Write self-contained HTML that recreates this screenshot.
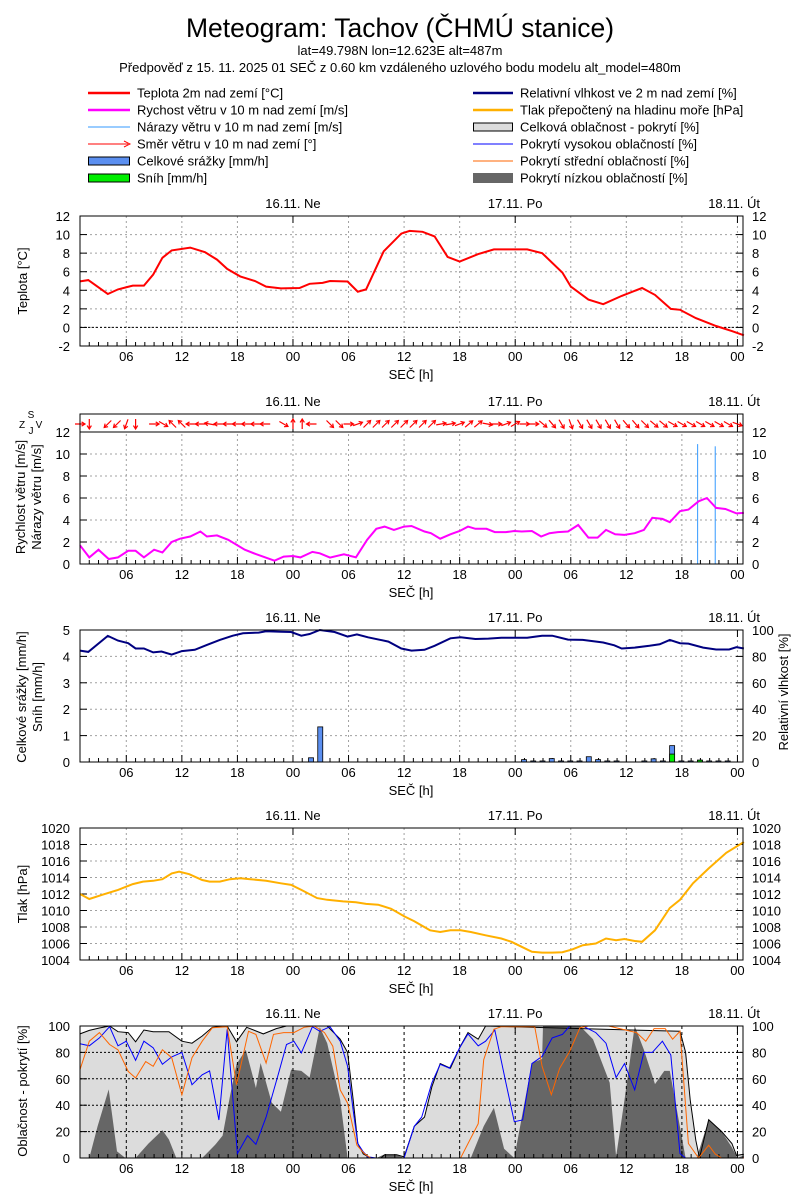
<!DOCTYPE html>
<html><head><meta charset="utf-8"><style>
html,body{margin:0;padding:0;background:#fff;}
svg{display:block;font-family:"Liberation Sans",sans-serif;}
</style></head><body>
<svg id="c" width="800" height="1200" viewBox="0 0 800 1200" xmlns="http://www.w3.org/2000/svg">
<text x="400" y="37" font-size="26.5" text-anchor="middle">Meteogram: Tachov (ČHMÚ stanice)</text>
<text x="400" y="55" font-size="13" text-anchor="middle">lat=49.798N lon=12.623E alt=487m</text>
<text x="400" y="72" font-size="13" text-anchor="middle">Předpověď z 15. 11. 2025 01 SEČ z 0.60 km vzdáleného uzlového bodu modelu alt_model=480m</text>
<g font-size="13">
 <line x1="88" y1="93" x2="130" y2="93" stroke="#ff0000" stroke-width="2.5"/>
 <text x="137" y="97.5">Teplota 2m nad zemí [°C]</text>
 <line x1="88" y1="110" x2="130" y2="110" stroke="#ff00ff" stroke-width="2.5"/>
 <text x="137" y="114.5">Rychost větru v 10 m nad zemí [m/s]</text>
 <line x1="88" y1="127" x2="130" y2="127" stroke="#3399ff" stroke-width="1"/>
 <text x="137" y="131.5">Nárazy větru v 10 m nad zemí [m/s]</text>
 <line x1="88" y1="144" x2="128" y2="144" stroke="#ff0000" stroke-width="1"/>
 <path d="M124,141 L130,144 L124,147" fill="none" stroke="#ff0000"/>
 <text x="137" y="148.5">Směr větru v 10 m nad zemí [°]</text>
 <rect x="88.5" y="157" width="41" height="8" fill="#5b8ff0" stroke="#000"/>
 <text x="137" y="165.5">Celkové srážky [mm/h]</text>
 <rect x="88.5" y="174" width="41" height="8" fill="#00ee00" stroke="#000"/>
 <text x="137" y="182.5">Sníh [mm/h]</text>
 <line x1="473" y1="93" x2="513" y2="93" stroke="#000080" stroke-width="2.5"/>
 <text x="520" y="97.5">Relativní vlhkost ve 2 m nad zemí [%]</text>
 <line x1="473" y1="110" x2="513" y2="110" stroke="#ffb000" stroke-width="2.5"/>
 <text x="520" y="114.5">Tlak přepočtený na hladinu moře [hPa]</text>
 <rect x="473.5" y="123" width="39" height="8" fill="#dcdcdc" stroke="#000"/>
 <text x="520" y="131.5">Celková oblačnost - pokrytí [%]</text>
 <line x1="473" y1="144" x2="513" y2="144" stroke="#0000ff" stroke-width="1"/>
 <text x="520" y="148.5">Pokrytí vysokou oblačností [%]</text>
 <line x1="473" y1="161" x2="513" y2="161" stroke="#ff6600" stroke-width="1"/>
 <text x="520" y="165.5">Pokrytí střední oblačností [%]</text>
 <rect x="473" y="173" width="40" height="10" fill="#666666"/>
 <text x="520" y="182.5">Pokrytí nízkou oblačností [%]</text>
</g>
</svg>
<script>
// ---- data (time in hours from 15.11. 00:00 SEČ) ----
const tempT=[1.0,1.9,4.0,5.1,6.7,7.9,8.9,9.9,10.9,12.9,14.5,15.8,16.9,18.3,19.9,21.1,22.7,24.7,25.8,27.2,28,29.9,31,31.9,33.8,35.7,36.6,38,39.3,40.7,42,44,45.7,49.3,50.9,53.1,54,55.9,57.5,59.5,61.7,63.1,64.8,65.8,67.5,69.7,71.4,72.7];
const tempV=[4.96,5.1,3.6,4.1,4.5,4.5,5.7,7.5,8.3,8.6,8.1,7.3,6.3,5.5,5.0,4.4,4.2,4.25,4.7,4.8,5.0,4.95,3.85,4.1,8.2,10.1,10.4,10.3,9.8,7.6,7.1,7.9,8.4,8.4,8.0,5.9,4.4,3.0,2.5,3.4,4.25,3.5,2.0,1.9,1.0,0.15,-0.4,-0.85];
const windT=[1.0,2.0,3.0,4.1,5.1,6.2,7.0,7.9,9.0,9.9,10.9,11.8,12.9,14.0,14.7,15.8,17.0,18.8,20.0,22.0,23.0,24.0,24.8,26.1,26.9,28.0,29.5,30.8,32.0,33.0,33.9,34.9,36.0,36.8,38.2,38.9,39.9,41.0,42.0,42.9,43.7,44.9,45.8,47.0,47.9,48.7,49.8,50.8,51.7,52.6,53.7,54.8,55.9,56.9,57.8,58.8,59.8,60.9,61.9,62.8,63.9,64.7,65.8,66.7,67.8,68.7,69.7,70.7,71.9,72.7];
const windV=[1.7,0.6,1.3,0.45,0.6,1.2,1.2,0.6,1.3,1.05,2.0,2.3,2.5,2.95,2.5,2.6,2.2,1.3,0.9,0.3,0.67,0.73,0.6,1.1,0.97,0.58,0.88,0.6,2.2,3.2,3.4,3.1,3.4,3.45,2.95,2.8,2.3,2.7,3.0,3.4,3.2,3.2,2.9,2.9,3.0,2.95,3.0,2.5,2.8,2.9,2.95,3.55,2.4,2.4,3.1,2.7,2.65,2.8,3.1,4.2,4.1,3.8,4.8,4.95,5.7,6.0,5.1,5.0,4.6,4.65];
const gustT=[67.7,69.6];
const gustV=[10.9,10.7];
const dirT=[1,2,4,5,6,7,9,10,11,12,13,14,15,16,17,18,19,20,21,23,24,25,26,28,29,30,31,32,33,34,35,36,37,38,39,40,41,42,43,44,45,46,47,48,49,50,51,52,53,54,55,56,57,58,59,60,61,62,63,64,65,66,67,68,69,70,71,72];
const dirV=[270,0,45,45,20,0,270,300,135,135,90,90,100,90,90,90,90,90,90,300,180,180,90,315,315,270,250,225,225,225,225,225,225,225,225,260,260,250,230,230,280,270,250,240,270,270,310,320,330,340,330,330,330,330,330,320,320,315,310,310,300,300,300,300,300,300,300,290];
const rhT=[1.0,1.9,4.0,5.1,6.2,7.0,7.9,8.9,9.8,10.9,12.0,13.4,14.7,16.1,17.5,18.6,20.3,21.1,22.7,23.8,24.9,25.8,26.9,28.5,29.9,30.9,32.1,34.3,35.7,36.8,38.2,39.3,41.0,42.1,43.7,45.1,46.5,49.3,50.9,52.0,53.7,55.3,57.5,58.7,59.5,60.9,62.5,63.6,64.7,65.8,66.7,68.3,69.7,71.1,71.9,72.7];
const rhV=[84.4,83.4,95.5,92,90,86,86,83,83.7,81.4,84,85,88.7,92.5,95.7,97.5,98,99,98.7,98.5,95.7,97,100,98.5,95,96.7,94.5,91.2,86,84.4,85,88,93.7,94.5,93.2,93.5,94.2,94.2,95.7,95.7,92.7,92.5,90.5,88.4,86,86.7,88,89.2,92.5,90,89.7,86.7,85.2,85.2,87,86];
const precT=[26,27,49,50,51,52,53,54,55,56,57,58,59,62,63,64,65,66,67,68,69,70,71];
const precV=[0.16,1.33,0.09,0.04,0.04,0.13,0.04,0.04,0.04,0.2,0.09,0.04,0.04,0.04,0.12,0.04,0.62,0.04,0.04,0.07,0.04,0.04,0.04];
const snowT=[65,68];
const snowV=[0.3,0.07];
const presT=[1.0,2.0,3.4,5.1,6.7,7.8,8.9,9.9,10.9,11.7,12.8,14.2,15.0,16.1,17.2,18.3,19.4,21.1,22.7,23.8,24.9,26.6,27.7,29.4,30.8,31.9,33.2,34.6,36.0,37.1,38.8,39.9,41.0,42.1,43.2,44.8,46.5,47.6,48.7,49.8,50.9,52.0,53.1,54.2,55.3,56.7,57.8,58.9,59.8,60.9,61.7,63.1,64.7,65.8,67.2,68.9,70.8,72.7];
const presV=[1012.0,1011.4,1011.9,1012.5,1013.2,1013.5,1013.6,1013.8,1014.5,1014.7,1014.4,1013.7,1013.5,1013.5,1013.8,1013.9,1013.8,1013.6,1013.3,1013.1,1012.5,1011.5,1011.3,1011.1,1011.0,1010.8,1010.7,1010.2,1009.3,1008.7,1007.6,1007.4,1007.6,1007.6,1007.4,1007.0,1006.6,1006.2,1005.6,1005.0,1004.9,1004.9,1004.95,1005.3,1005.8,1006.0,1006.6,1006.4,1006.55,1006.3,1006.2,1007.6,1010.3,1011.3,1013.3,1015.1,1017.0,1018.3];
const totT=[1.0,2.0,3.1,4.2,5.1,6.2,7.0,7.9,8.9,10.6,12.0,13.1,14.2,15.3,16.9,17.9,19.0,20.8,22.2,23.3,27.7,29.1,29.9,30.5,31.0,31.6,32.4,33.5,33.9,35.2,36.0,37.1,38.2,39.0,39.9,41.0,42.1,42.9,44.0,44.8,65.8,66.4,66.9,67.5,67.9,68.9,70.3,71.4,71.9,72.7];
const totV=[94,96.7,98.5,100,95.7,95,88,97,95.7,95.7,88.5,87,92.4,99,100,88,99,94,98,100,100,90,80,44,11,3,0,0,2.5,2.5,0.8,24,31,54,71.5,68,85,95,90,100,96,80,44,13.5,0,29,20,11,2,2.8];
const lowT=[1,2,2.9,4.1,5,5.9,7,8.4,9.9,10.6,11.4,14.2,15.6,16.4,17.2,17.9,18.9,20,20.5,21.7,22.7,23.8,24.9,25.8,26.9,27.7,29.1,29.9,33,33.8,35.2,36,43.2,44.6,45.7,46.8,47.9,48.4,49.8,50.9,51,55,56.4,58.2,58.9,59.8,60.9,61.9,63.1,64.1,64.7,65.6,66.4,67.6,68.9,70.3,71.4,72,72.7];
const lowV=[0,0,24,52,5,0,0,11,21,14,0,0,10,17,47,71,82,53,72,42,35,67,66,61,99,87,44,0,0,2.5,2.5,0,0,24,38,7,0,19,72,75,100,100,90,57,1,44,100,82,56,66,66,31,0,0,29,20,8,0,2];
const highT=[1.0,2.0,3.1,4.2,5.1,6.0,7.0,7.9,8.9,9.9,10.9,12.0,13.1,14.2,15.0,16.0,16.9,18.0,19.1,20.0,21.1,22.5,23.3,24.1,24.9,26.1,26.9,28.0,29.1,29.9,30.5,31.0,31.6,32.1,33.0,36.0,37.1,37.9,39.0,39.9,40.9,42.0,42.9,44.0,44.8,45.8,47.0,47.9,48.8,49.8,50.9,52.0,53.1,53.9,55.3,56.7,57.8,58.9,59.8,60.9,61.9,62.8,63.9,64.8,65.8,66.4,72.7];
const highV=[86.5,85,91,99.5,85,88.5,74,88.5,83.5,71,76.6,80,55.5,63,66,28.8,97.5,3.3,17,10.4,31,65.6,86,88.5,79.6,99.5,96,99.5,88.5,69.5,36,11,4.6,0.8,0,0,24,31,57,71,68,83.5,94,85,88.5,97,57,27.5,28.8,71.5,77,91,93.6,100,100,95,87,61,71.5,51.6,80,80,88.5,78,3.3,0,0];
const midT=[1.0,2.0,3.1,4.2,5.1,6.2,7.0,8.1,8.9,9.9,10.9,12.0,13.1,14.2,15.3,16.9,17.9,19.2,20.0,21.1,21.9,23.0,24.1,25.2,26.3,27.4,28.3,29.1,29.9,30.9,31.7,32.4,42.1,44.0,44.6,45.7,46.5,50.1,50.9,51.9,52.8,53.9,55.0,55.9,58.1,61.1,62.1,63.0,64.2,65.0,65.8,66.7,67.8,68.9,69.6,70.3,72.7];
const midV=[67,88.5,95,86,82,65.6,60.6,73,69.5,82,76,47.8,76,88.5,98.7,99.5,55.5,96,93.6,72,93.6,95,95,99,100,95,84.7,51.6,41.5,9.7,3.3,0,0,26,74.5,97.5,99.5,99.5,69.5,48,68,81,98.7,100,100,95,88.5,98,98,90,96,11,0,9.7,3,0,0];
const hourLabels=["06","12","18","00","06","12","18","00","06","12","18","00"];
const hourTicks=[6,12,18,24,30,36,42,48,54,60,66,72];
const dayLabels=["16.11. Ne","17.11. Po","18.11. Út"];
const dayTicks=[24,48,72];

// ---- layout ----
const NS="http://www.w3.org/2000/svg";
const svg=document.getElementById('c');
const L=80,R=743,T0=1,T1=72.6;
function X(t){return L+(t-T0)*(R-L)/(T1-T0);}
function mk(tag,attrs,parent){const e=document.createElementNS(NS,tag);for(const k in attrs)e.setAttribute(k,attrs[k]);(parent||svg).appendChild(e);return e;}
function txt(x,y,s,anchor,size,parent,rot){const e=mk('text',{x:x,y:y,'font-size':size||13,'text-anchor':anchor||'start'},parent);if(rot)e.setAttribute('transform','rotate(-90 '+x+' '+y+')');e.textContent=s;return e;}
function linePath(ts,vs,Y){let d='';for(let i=0;i<ts.length;i++)d+=(i?'L':'M')+X(ts[i]).toFixed(1)+','+Y(vs[i]).toFixed(1);return d;}
function areaPath(ts,vs,Y,base){let d='M'+X(ts[0]).toFixed(1)+','+base;for(let i=0;i<ts.length;i++)d+='L'+X(ts[i]).toFixed(1)+','+Y(vs[i]).toFixed(1);d+='L'+X(ts[ts.length-1]).toFixed(1)+','+base+'Z';return d;}

function axesTime(g,top,bot,gridColor,gridDash,frameTop){
  for(let i=0;i<hourTicks.length;i++){
    const x=X(hourTicks[i]);
    const gl=mk('line',{x1:x,y1:frameTop,x2:x,y2:bot,stroke:gridColor,'stroke-dasharray':gridDash,'stroke-width':1},g);
    
    
    const lb=txt(x,bot+15,hourLabels[i],'middle',13,g);
    
    
  }
  for(let h=2;h<=72;h++){const x=X(h);const len=(h%6===0)?7:4;
    const tk=mk('line',{x1:x,y1:bot,x2:x,y2:bot-len,stroke:'#000'},g);
    
    }
  for(let i=0;i<dayTicks.length;i++){const x=X(dayTicks[i]);
    const tk=mk('line',{x1:x,y1:frameTop,x2:x,y2:frameTop+7,stroke:'#000'},g);
    
    
    const dl=txt(i===2?760:x,frameTop-8,dayLabels[i],i===2?'end':'middle',13,g);
    
    }
  const xt=txt(411,bot+33,'SEČ [h]','middle',13,g);
  
  
}
function axesY(g,vals,Y,labelsL,labelsR,gridColor,gridDash,bot,top){
  for(let i=0;i<vals.length;i++){const y=Y(vals[i]);
    if(y>top+1&&y<bot-1){const gl=mk('line',{x1:L,y1:y,x2:R,y2:y,stroke:gridColor,'stroke-dasharray':gridDash},g);
      
      }
    mk('line',{x1:L,y1:y,x2:L+7,y2:y,stroke:'#000'},g);
    mk('line',{x1:R,y1:y,x2:R-7,y2:y,stroke:'#000'},g);
    if(labelsL){const a=txt(70,y+5,labelsL[i],'end',13,g);
      
      }
    if(labelsR){const b=txt(752,y+5,labelsR[i],'start',13,g);
      
      }
  }
}
function frame(g,top,bot){const f=mk('rect',{x:L,y:top,width:R-L,height:bot-top,fill:'none',stroke:'#000'},g);
  
  }
function ytitle(g,x,y,s){const e=txt(x,y,s,'middle',13,g,true);return e;}

// ---- Panel 1: temperature ----
(function(){
  const top=216,bot=346,mn=-2,mx=12;const Y=v=>bot-(v-mn)*(bot-top)/(mx-mn);
  const g=mk('g',{});
  axesTime(g,top,bot,'#a0a0a0','2,3',top);
  const v=[-2,0,2,4,6,8,10,12];const l=v.map(String);
  axesY(g,v,Y,l,l,'#a0a0a0','2,3',bot,top);
  const z=mk('line',{x1:L,y1:Y(0),x2:R,y2:Y(0),stroke:'#000','stroke-dasharray':'2,2'},g);
  
  const p=mk('path',{d:linePath(tempT,tempV,Y),fill:'none',stroke:'#ff0000','stroke-width':2},g);
  
  frame(g,top,bot);
  ytitle(g,27,281,'Teplota [°C]');
})();

// ---- Panel 2: wind ----
(function(){
  const top=414,sep=432,bot=564,mx=12;const Y=v=>bot-v*(bot-sep)/mx;
  const g=mk('g',{});
  axesTime(g,sep,bot,'#a0a0a0','2,3',top);
  const v=[0,2,4,6,8,10,12];const l=v.map(String);
  axesY(g,v,Y,l,l,'#a0a0a0','2,3',bot,sep);
  mk('rect',{x:L,y:top,width:R-L,height:sep-top,fill:'#fff'},g);
  for(let i=0;i<dayTicks.length;i++){const x=X(dayTicks[i]);const dl=mk('line',{x1:x,y1:top,x2:x,y2:sep,stroke:'#000'},g);
    }
  for(let i=0;i<gustT.length;i++){const b=mk('line',{x1:X(gustT[i]),y1:bot,x2:X(gustT[i]),y2:Y(gustV[i]),stroke:'#3399ff','stroke-width':1},g);
    }
  const p=mk('path',{d:linePath(windT,windV,Y),fill:'none',stroke:'#ff00ff','stroke-width':2},g);
  
  const cy=424,len=10;
  for(let i=0;i<dirT.length;i++){
    const th=(dirV[i]+180)*Math.PI/180;const dx=Math.sin(th),dy=-Math.cos(th);
    const cx=X(dirT[i]);const x1=cx-dx*len/2,y1=cy-dy*len/2,x2=cx+dx*len/2,y2=cy+dy*len/2;
    const a1=th+Math.PI*0.82,a2=th-Math.PI*0.82;
    const d='M'+x1.toFixed(1)+','+y1.toFixed(1)+'L'+x2.toFixed(1)+','+y2.toFixed(1)+'M'+(x2+Math.sin(a1)*4).toFixed(1)+','+(y2-Math.cos(a1)*4).toFixed(1)+'L'+x2.toFixed(1)+','+y2.toFixed(1)+'L'+(x2+Math.sin(a2)*4).toFixed(1)+','+(y2-Math.cos(a2)*4).toFixed(1);
    const ar=mk('path',{d:d,fill:'none',stroke:'#ff0000','stroke-width':1.2},g);
    
  }
  mk('line',{x1:L,y1:sep,x2:R,y2:sep,stroke:'#000'},g);
  frame(g,top,bot);
  const cs=[['S',31,418],['Z',22,428],['V',39,428],['J',31,434]];
  for(const c of cs){const e=txt(c[1],c[2],c[0],'middle',10,g);}
  ytitle(g,25,497,'Rychlost větru [m/s]');
  ytitle(g,41,497,'Nárazy větru [m/s]');
})();

// ---- Panel 3: precipitation + humidity ----
(function(){
  const top=630,bot=762;const Y=v=>bot-v*(bot-top)/5;const YH=h=>bot-h*(bot-top)/100;
  const g=mk('g',{});
  axesTime(g,top,bot,'#a0a0a0','2,3',top);
  const v=[0,1,2,3,4,5];
  axesY(g,v,Y,v.map(String),['0','20','40','60','80','100'],'#a0a0a0','2,3',bot,top);
  for(let i=0;i<precT.length;i++){const x=X(precT[i])-3;const y=Y(precV[i]);
    const b=mk('rect',{x:x,y:y,width:5,height:bot-y,fill:'#5b8ff0',stroke:'#000','stroke-width':0.8},g);
    }
  for(let i=0;i<snowT.length;i++){const x=X(snowT[i])-3;const y=Y(snowV[i]);
    const b=mk('rect',{x:x,y:y,width:5,height:bot-y,fill:'#00ee00',stroke:'#000','stroke-width':0.8},g);
    }
  const p=mk('path',{d:linePath(rhT,rhV,YH),fill:'none',stroke:'#000080','stroke-width':2},g);
  
  frame(g,top,bot);
  ytitle(g,26,697,'Celkové srážky [mm/h]');
  ytitle(g,42,697,'Sníh [mm/h]');
  ytitle(g,788,692,'Relativní vlhkost [%]');
})();

// ---- Panel 4: pressure ----
(function(){
  const top=828,bot=960,mn=1004,mx=1020;const Y=v=>bot-(v-mn)*(bot-top)/(mx-mn);
  const g=mk('g',{});
  axesTime(g,top,bot,'#a0a0a0','2,3',top);
  const v=[1004,1006,1008,1010,1012,1014,1016,1018,1020];const l=v.map(String);
  axesY(g,v,Y,l,l,'#a0a0a0','2,3',bot,top);
  const p=mk('path',{d:linePath(presT,presV,Y),fill:'none',stroke:'#ffb000','stroke-width':2},g);
  
  frame(g,top,bot);
  ytitle(g,27,894,'Tlak [hPa]');
})();

// ---- Panel 5: clouds ----
(function(){
  const top=1026,bot=1158;const Y=v=>bot-v*(bot-top)/100;
  const g=mk('g',{});
  const a=mk('path',{d:areaPath(totT,totV,Y,bot),fill:'#dcdcdc',stroke:'none'},g);
  
  const lo=mk('path',{d:areaPath(lowT,lowV,Y,bot),fill:'#666666',stroke:'none'},g);
  
  const ol=mk('path',{d:linePath(totT,totV,Y),fill:'none',stroke:'#000','stroke-width':1},g);
  
  axesTime(g,top,bot,'#000','3,3',top);
  const v=[0,20,40,60,80,100];const l=v.map(String);
  axesY(g,v,Y,l,l,'#000','2,2',bot,top);
  const hi=mk('path',{d:linePath(highT,highV,Y),fill:'none',stroke:'#0000ff','stroke-width':1},g);
  
  const mi=mk('path',{d:linePath(midT,midV,Y),fill:'none',stroke:'#ff6600','stroke-width':1},g);
  
  frame(g,top,bot);
  ytitle(g,27,1091,'Oblačnost - pokrytí [%]');
})();
</script>
</body></html>
